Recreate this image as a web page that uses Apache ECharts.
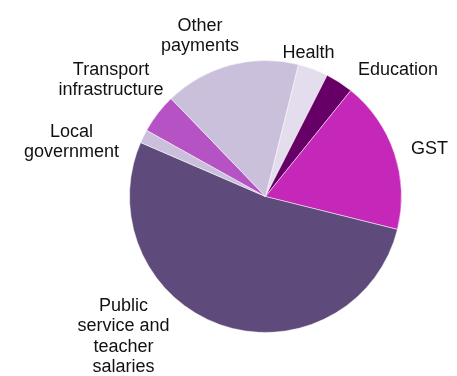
<!DOCTYPE html>
<html>
<head>
<meta charset="utf-8">
<script src="https://cdn.jsdelivr.net/npm/echarts@6/dist/echarts.min.js"></script>
<style>
  html, body { margin: 0; padding: 0; background: #fff; }
  #chart { width: 457px; height: 376px; }
</style>
</head>
<body>
<div id="chart"></div>
<script>
// Spending shares (per cent), in clockwise order
const categories = [
  'Health',
  'Education',
  'GST',
  'Public\nservice and\nteacher\nsalaries',
  'Local\ngovernment',
  'Transport\ninfrastructure',
  'Other\npayments'
];
const shares = [3.6, 3.3, 18.1, 52.6, 1.6, 4.7, 16.1];
const colors = ['#E4DDED', '#660066', '#C528B9', '#5F4B7B', '#CBC0DB', '#B553C5', '#CBC0DB'];

// Label anchor points (centre of each text block), same order as categories
const labelAnchors = [
  [308.5, 53.5],
  [398, 70.5],
  [429.5, 149.5],
  [123.5, 336.5],
  [71.5, 142],
  [111, 80],
  [200, 36]
];

const chart = echarts.init(document.getElementById('chart'), null, { renderer: 'canvas' });

chart.setOption({
  animation: false,
  backgroundColor: '#ffffff',
  series: [{
    type: 'pie',
    center: [265.5, 196.5],
    radius: 136,
    startAngle: 76,
    clockwise: true,
    avoidLabelOverlap: false,
    itemStyle: { borderColor: '#ffffff', borderWidth: 0.5 },
    label: {
      show: true,
      position: 'outside',
      fontFamily: 'Liberation Sans, Arial, sans-serif',
      fontSize: 18,
      lineHeight: 20.5,
      color: '#111111',
      align: 'center'
    },
    labelLine: { show: false },
    labelLayout: function (params) {
      const p = labelAnchors[params.dataIndex];
      return { x: p[0], y: p[1], align: 'center', verticalAlign: 'middle', hideOverlap: false, moveOverlap: null };
    },
    data: categories.map((name, i) => ({
      name: name,
      value: shares[i],
      itemStyle: { color: colors[i] }
    }))
  }]
});
</script>
</body>
</html>
